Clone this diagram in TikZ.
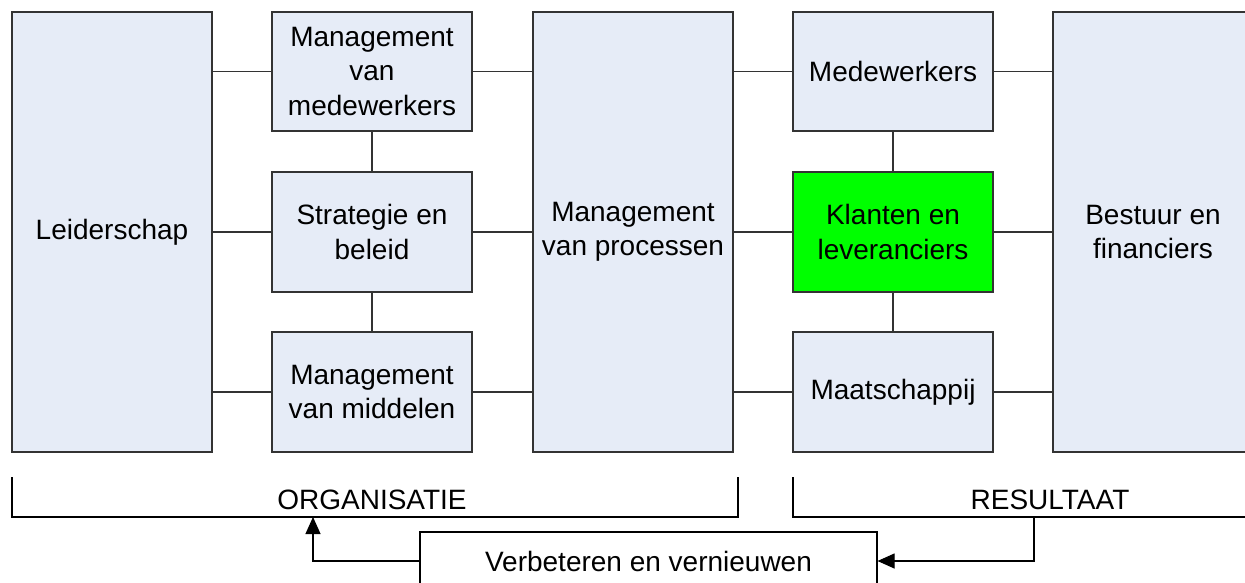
\documentclass[tikz,border=0pt]{standalone}
\usepackage{fontspec}
\setmainfont{Liberation Sans}
\usetikzlibrary{arrows.meta}
\definecolor{boxfill}{HTML}{E6ECF7}
\definecolor{boxgreen}{HTML}{00FF00}
\definecolor{edge}{HTML}{333333}
\begin{document}
\begin{tikzpicture}[x=1pt,y=-1pt,
  box/.style={draw=edge, line width=1.2pt, fill=boxfill, inner sep=0pt,
    minimum width=200pt, minimum height=120pt, align=center,
    font=\fontsize{28}{34.5}\selectfont},
  tall/.style={box, minimum height=440pt},
  link/.style={draw=edge, line width=1.1pt},
  brk/.style={draw=black, line width=1.1pt},
  lbl/.style={font=\fontsize{28}{34}\selectfont, inner sep=0pt},
  arr/.style={draw=black, line width=1.1pt, -{Triangle[length=17pt,width=15pt]}}]
\useasboundingbox (0,0) rectangle (1245,583);
\clip (0,0) rectangle (1245,583);
\fill[white] (0,0) rectangle (1245,583);
% boxes
\node[tall] (L) at (112,232) {Leiderschap};
\node[box, minimum height=119pt] (MM) at (372,71.5) {Management\\van\\medewerkers};
\node[box] (SB) at (372,232) {Strategie en\\beleid};
\node[box] (MMi) at (372,392) {Management\\van middelen};
\node[tall] (MP) at (633,232) {Management\\van processen};
\node[box, minimum height=119pt] (MW) at (893,71.5) {Medewerkers};
\node[box, fill=boxgreen] (KL) at (893,232) {Klanten en\\leveranciers};
\node[box] (MA) at (893,392) {Maatschappij};
\node[tall] (BF) at (1153,232) {Bestuur en\\financiers};
% connectors
\draw[link] (MM.west -| L.east) -- (MM.west);
\draw[link] (SB.west -| L.east) -- (SB.west);
\draw[link] (MMi.west -| L.east) -- (MMi.west);
\draw[link] (MM.south) -- (SB.north);
\draw[link] (SB.south) -- (MMi.north);
\draw[link] (MM.east) -- (MM.east -| MP.west);
\draw[link] (SB.east) -- (SB.east -| MP.west);
\draw[link] (MMi.east) -- (MMi.east -| MP.west);
\draw[link] (MW.west -| MP.east) -- (MW.west);
\draw[link] (KL.west -| MP.east) -- (KL.west);
\draw[link] (MA.west -| MP.east) -- (MA.west);
\draw[link] (MW.south) -- (KL.north);
\draw[link] (KL.south) -- (MA.north);
\draw[link] (MW.east) -- (MW.east -| BF.west);
\draw[link] (KL.east) -- (KL.east -| BF.west);
\draw[link] (MA.east) -- (MA.east -| BF.west);
% brackets
\coordinate (o1) at (12,477);
\coordinate (o2) at (12,517);
\coordinate (o3) at (738,517);
\coordinate (o4) at (738,477);
\draw[brk] (o1) -- (o2) -- (o3) -- (o4);
\node[lbl] (org) at (372,500) {ORGANISATIE};
\coordinate (r1) at (793,477);
\coordinate (r2) at (793,517);
\coordinate (r3) at (1305,517);
\draw[brk] (r1) -- (r2) -- (r3);
\node[lbl] (res) at (1050,500) {RESULTAAT};
% feedback
\node[draw=black, line width=1.1pt, fill=white, minimum width=457pt, minimum height=58pt,
  inner sep=0pt, font=\fontsize{28}{34}\selectfont] (V) at (648.5,561) {Verbeteren en vernieuwen};
\coordinate (rs) at (1034,517);
\coordinate (os) at (313,517);
\draw[arr] (rs) |- (V.east);
\draw[arr] (V.west) -| (os);
\end{tikzpicture}
\end{document}
